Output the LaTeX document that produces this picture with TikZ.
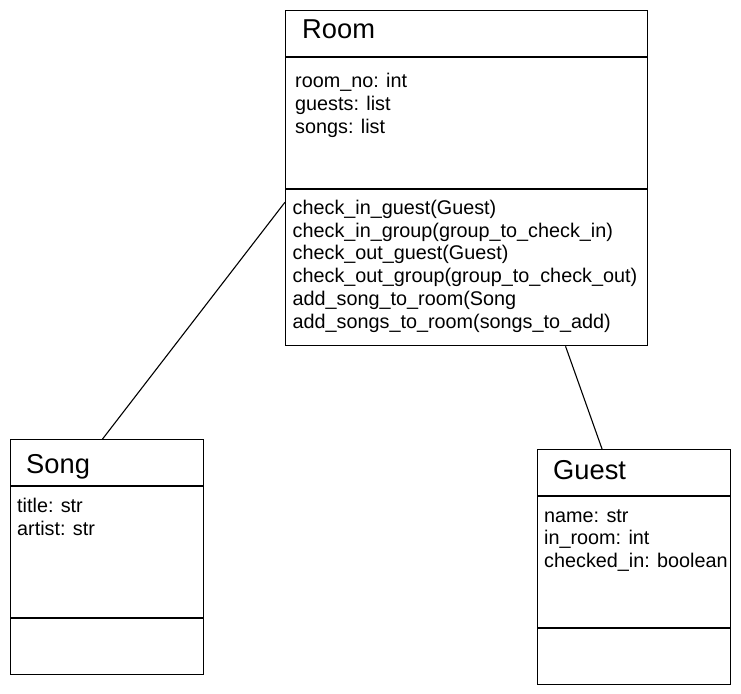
\documentclass[tikz,border=0pt]{standalone}
\usepackage{fontspec}
\setmainfont{Liberation Sans}
\usepackage{tikz}

\tikzset{
	part/.style={shape=rectangle,draw=black,line width=1.1pt,anchor=north west,inner sep=0pt},
	clsname/.style={anchor=base west,inner sep=0pt,font=\fontsize{27.3}{31}\selectfont},
	members/.style={anchor=base west,inner sep=0pt,align=left,font=\fontsize{19.8}{22.7}\selectfont}
}

\begin{document}
\begin{tikzpicture}[x=1pt,y=-1pt]
	\useasboundingbox (0,0) rectangle (741,693);
	
	\node[part,minimum width=362pt,minimum height=46pt] (roomT) at (285, 10) {};
	\node[part,minimum width=362pt,minimum height=131pt] (roomA) at (roomT.south west) {};
	\node[part,minimum width=362pt,minimum height=156pt] (roomM) at (roomA.south west) {};
	\node[clsname] (roomN) at (302, 39) {Room};
	\node[members] (roomAt) at (295, 133) {room\_no: int\\guests: list\\songs: list};
	\node[members] (roomMe) at (292.5, 328) {check\_in\_guest(Guest)\\check\_in\_group(group\_to\_check\_in)\\check\_out\_guest(Guest)\\check\_out\_group(group\_to\_check\_out)\\add\_song\_to\_room(Song\\add\_songs\_to\_room(songs\_to\_add)};
	
	\node[part,minimum width=193pt,minimum height=46pt] (songT) at (10, 439) {};
	\node[part,minimum width=193pt,minimum height=131pt] (songA) at (songT.south west) {};
	\node[part,minimum width=193pt,minimum height=56pt] (songM) at (songA.south west) {};
	\node[clsname] (songN) at (26, 473) {Song};
	\node[members] (songAt) at (17, 535.5) {title: str\\artist: str};
	
	\node[part,minimum width=193pt,minimum height=46pt] (guestT) at (537, 449) {};
	\node[part,minimum width=193pt,minimum height=131pt] (guestA) at (guestT.south west) {};
	\node[part,minimum width=193pt,minimum height=56pt] (guestM) at (guestA.south west) {};
	\node[clsname] (guestN) at (553, 479) {Guest};
	\node[members] (guestAt) at (544, 567.5) {name: str\\in\_room: int\\checked\_in: boolean};
	
	\path[-,line width=1.1pt] ([yshift=-13pt]roomM.north west) edge ([xshift=-4.5pt]songT.north);
	\path[-,line width=1.1pt] ([xshift=99pt]roomM.south) edge ([xshift=-32pt]guestT.north);
\end{tikzpicture}
\end{document}
